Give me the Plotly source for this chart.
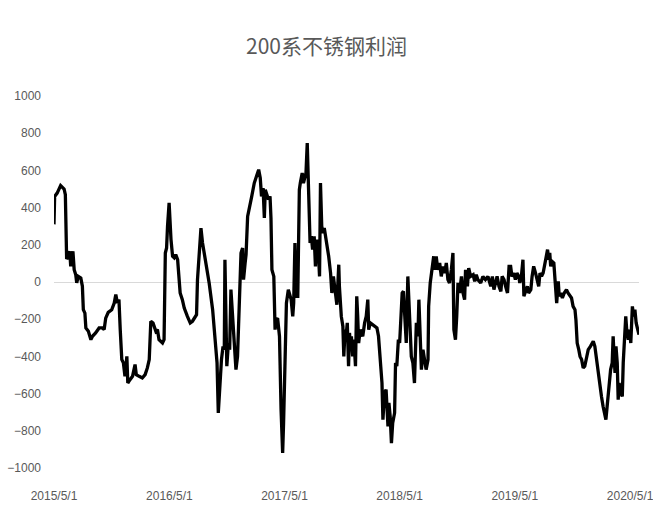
import plotly.graph_objects as go

dates = [
"2015-05-01","2015-05-03","2015-05-11","2015-05-22","2015-06-02","2015-06-06","2015-06-10","2015-06-12","2015-06-20","2015-06-23",
"2015-06-30","2015-07-04","2015-07-09","2015-07-12","2015-07-17","2015-07-25","2015-07-30","2015-08-02","2015-08-07","2015-08-10",
"2015-08-18","2015-08-26","2015-08-31","2015-09-10","2015-09-21","2015-10-01","2015-10-07","2015-10-12","2015-10-20","2015-10-31",
"2015-11-08","2015-11-13","2015-11-18","2015-11-23","2015-11-27","2015-12-02","2015-12-07","2015-12-12","2015-12-18","2015-12-21",
"2015-12-28","2016-01-05","2016-01-13","2016-01-17","2016-01-26","2016-02-05","2016-02-14","2016-02-21","2016-02-27","2016-03-03",
"2016-03-10","2016-03-19","2016-03-24","2016-03-29","2016-04-09","2016-04-14","2016-04-18","2016-04-22","2016-04-25","2016-04-30",
"2016-05-06","2016-05-11","2016-05-16","2016-05-21","2016-05-27","2016-06-01","2016-06-04","2016-06-11","2016-06-17","2016-06-27",
"2016-07-06","2016-07-13","2016-07-21","2016-07-26","2016-07-29","2016-08-03","2016-08-09","2016-08-14","2016-08-19","2016-08-28",
"2016-09-04","2016-09-15","2016-09-22","2016-09-29","2016-10-03","2016-10-07","2016-10-13","2016-10-18","2016-10-22","2016-10-24",
"2016-10-27","2016-10-30","2016-11-04","2016-11-08","2016-11-12","2016-11-17","2016-11-23","2016-11-28","2016-12-03","2016-12-09",
"2016-12-14","2016-12-19","2016-12-22","2016-12-27","2016-12-30","2017-01-04","2017-01-09","2017-01-17","2017-01-25","2017-02-03",
"2017-02-08","2017-02-13","2017-02-17","2017-02-22","2017-02-26","2017-03-01","2017-03-07","2017-03-11","2017-03-16","2017-03-19",
"2017-03-22","2017-03-28","2017-04-01","2017-04-05","2017-04-09","2017-04-15","2017-04-20","2017-04-25","2017-04-28","2017-05-03",
"2017-05-07","2017-05-13","2017-05-16","2017-05-22","2017-05-27","2017-05-30","2017-06-03","2017-06-07","2017-06-12","2017-06-17",
"2017-06-20","2017-06-26","2017-06-30","2017-07-04","2017-07-08","2017-07-12","2017-07-17","2017-07-21","2017-07-25","2017-07-29",
"2017-08-03","2017-08-07","2017-08-11","2017-08-17","2017-08-20","2017-08-23","2017-08-27","2017-09-01","2017-09-04","2017-09-10",
"2017-09-18","2017-09-24","2017-09-28","2017-10-03","2017-10-08","2017-10-14","2017-10-20","2017-10-22","2017-10-28","2017-11-02",
"2017-11-05","2017-11-09","2017-11-12","2017-11-16","2017-11-20","2017-11-23","2017-11-26","2017-11-29","2017-12-03","2017-12-07",
"2017-12-12","2017-12-16","2017-12-19","2017-12-22","2017-12-27","2018-01-04","2018-01-10","2018-01-15","2018-01-20","2018-01-23",
"2018-01-28","2018-02-03","2018-02-10","2018-02-18","2018-02-23","2018-02-28","2018-03-06","2018-03-09","2018-03-14","2018-03-19",
"2018-03-25","2018-03-28","2018-04-01","2018-04-05","2018-04-09","2018-04-15","2018-04-18","2018-04-22","2018-04-27","2018-05-01",
"2018-05-05","2018-05-09","2018-05-13","2018-05-17","2018-05-22","2018-05-27","2018-06-02","2018-06-07","2018-06-12","2018-06-17",
"2018-06-23","2018-06-28","2018-07-01","2018-07-05","2018-07-09","2018-07-14","2018-07-19","2018-07-24","2018-07-30","2018-08-01",
"2018-08-06","2018-08-11","2018-08-17","2018-08-20","2018-08-25","2018-08-30","2018-09-05","2018-09-10","2018-09-15","2018-09-21",
"2018-09-26","2018-10-01","2018-10-06","2018-10-12","2018-10-17","2018-10-20","2018-10-25","2018-10-29","2018-11-02","2018-11-07",
"2018-11-13","2018-11-18","2018-11-23","2018-11-26","2018-12-02","2018-12-06","2018-12-12","2018-12-20","2018-12-25","2018-12-30",
"2019-01-04","2019-01-13","2019-01-20","2019-01-28","2019-02-05","2019-02-14","2019-02-19","2019-02-24","2019-03-01","2019-03-06",
"2019-03-12","2019-03-18","2019-03-22","2019-03-28","2019-04-02","2019-04-08","2019-04-13","2019-04-18","2019-04-22","2019-04-28",
"2019-05-03","2019-05-08","2019-05-14","2019-05-17","2019-05-22","2019-05-27","2019-05-30","2019-06-05","2019-06-10","2019-06-14",
"2019-06-21","2019-06-25","2019-06-30","2019-07-06","2019-07-11","2019-07-16","2019-07-20","2019-07-25","2019-07-30","2019-08-04",
"2019-08-10","2019-08-13","2019-08-17","2019-08-20","2019-08-23","2019-08-27","2019-09-02","2019-09-05","2019-09-08","2019-09-11",
"2019-09-16","2019-09-19","2019-09-24","2019-09-29","2019-10-05","2019-10-12","2019-10-17","2019-10-23","2019-10-28","2019-11-02",
"2019-11-08","2019-11-11","2019-11-15","2019-11-20","2019-11-24","2019-11-29","2019-12-04","2019-12-09","2019-12-15","2019-12-20",
"2019-12-27","2020-01-05","2020-01-10","2020-01-15","2020-01-21","2020-01-26","2020-01-31","2020-02-05","2020-02-11","2020-02-14",
"2020-02-18","2020-02-24","2020-02-29","2020-03-05","2020-03-08","2020-03-11","2020-03-14","2020-03-17","2020-03-21","2020-03-24",
"2020-03-27","2020-04-01","2020-04-06","2020-04-09","2020-04-12","2020-04-17","2020-04-20","2020-04-25","2020-04-29","2020-05-03",
"2020-05-08","2020-05-12","2020-05-16","2020-05-20","2020-05-25","2020-05-29",
]

profit = [
310, 460, 478, 518, 500, 470, 130, 129, 165, 84,
165, 66, 39, -5, 30, 21, -23, -149, -167, -247,
-265, -310, -292, -274, -247, -247, -256, -194, -163, -149,
-113, -68, -113, -95, -256, -417, -435, -507, -400, -543,
-525, -507, -444, -498, -507, -516, -498, -462, -417, -211,
-220, -265, -256, -310, -328, -310, 156, 183, 299, 425,
228, 138, 130, 147, 120, 30, -59, -95, -140, -185,
-220, -211, -185, -176, 13, 174, 290, 210, 156, 84,
-5, -149, -292, -435, -704, -579, -417, -346, -364, 120,
-256, -453, -328, -364, -41, -185, -310, -471, -400, -113,
156, 183, 13, 102, 147, 353, 389, 460, 532, 586,
604, 559, 460, 505, 344, 496, 469, 443, 460, 344,
66, 30, -256, -203, -194, -292, -686, -919, -758, -328,
-113, -41, -59, -95, -185, -113, 210, -77, -77, 496,
532, 586, 532, 568, 586, 747, 460, 210, 246, 174,
246, 84, 228, 138, 30, 532, 299, 263, 290, 228,
138, 48, -59, 30, -41, -122, 93, -23, -185, -238,
-400, -256, -292, -220, -453, -274, -346, -292, -400, -310,
-453, -77, -185, -328, -256, -292, -220, -185, -95, -256,
-220, -229, -238, -247, -292, -435, -543, -740, -597, -579,
-776, -650, -722, -866, -758, -704, -435, -453, -310, -328,
-131, -59, -50, -203, -328, 30, -185, -400, -435, -543,
-220, -292, -95, -256, -471, -364, -435, -471, -417, -131,
-5, 48, 138, 66, 138, 66, 102, 30, 84, 48,
102, 13, -5, 66, 156, -256, -310, -185, -5, -59,
30, -59, -95, 66, -23, 75, 30, 39, 4, 39,
13, -5, 30, 13, 30, -23, 30, -41, -5, 30,
-23, -50, 30, 13, -23, -59, 84, 84, 30, 48,
13, 48, 30, -5, 30, 120, -77, -41, -23, -59,
-41, 30, 84, 48, 13, -23, 48, 30, 48, 102,
156, 174, 120, 156, 84, 111, 102, 30, -59, -113,
4, -77, -59, -86, -59, -41, -59, -77, -86, -131,
-149, -203, -328, -364, -400, -417, -462, -453, -408, -364,
-346, -319, -346, -417, -489, -561, -615, -668, -722, -740,
-668, -543, -471, -435, -292, -400, -489, -346, -435, -633,
-543, -597, -615, -435, -328, -185, -256, -310, -256, -328,
-131, -185, -149, -220, -256, -283,
]

x_tick_dates = ["2015-05-01", "2016-05-01", "2017-05-01", "2018-05-01", "2019-05-01", "2020-05-01"]
x_tick_labels = ["2015/5/1", "2016/5/1", "2017/5/1", "2018/5/1", "2019/5/1", "2020/5/1"]
y_ticks = [-1000, -800, -600, -400, -200, 0, 200, 400, 600, 800, 1000]
title_text = "200系不锈钢利润"

tick_font = dict(family="Liberation Sans, Arial, sans-serif", size=12, color="#595959")

fig = go.Figure()
fig.add_trace(go.Scatter(
    x=dates, y=profit, mode="lines",
    line=dict(color="#000000", width=3.3),
    showlegend=False, hoverinfo="skip",
))

fig.update_layout(
    width=653, height=514,
    margin=dict(l=54, r=14, t=96, b=46),
    paper_bgcolor="white", plot_bgcolor="white",
    title=dict(text=title_text, x=0.5, xanchor="center", y=1 - 47 / 514, yanchor="middle",
               yref="container",
               font=dict(family="Noto Sans CJK SC, sans-serif", size=21, color="#595959")),
    xaxis=dict(
        type="date", range=[dates[0], dates[-1]], automargin=False,
        tickmode="array", tickvals=x_tick_dates, ticktext=x_tick_labels,
        showgrid=False, zeroline=False, showline=False, ticks="",
        tickfont=tick_font, ticklabelstandoff=19, ticklabeloverflow="allow",
    ),
    yaxis=dict(
        range=[-1000, 1000], tickmode="array", tickvals=y_ticks, automargin=False,
        showgrid=False, zeroline=True, zerolinecolor="#d9d9d9", zerolinewidth=1,
        showline=False, ticks="", tickfont=tick_font, ticklabelstandoff=12,
    ),
)

fig.write_html("out.html")
